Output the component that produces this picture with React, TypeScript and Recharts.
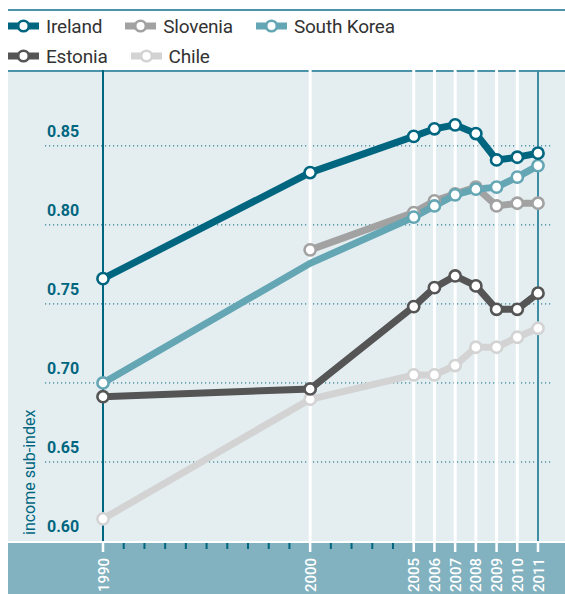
import {
  CartesianGrid,
  Line,
  LineChart,
  ReferenceLine,
  XAxis,
  YAxis
} from "recharts"

// Income sub-index, 1990–2011. Values.
const YEARS = [1990, 2000, 2005, 2006, 2007, 2008, 2009, 2010, 2011]
const IRELAND = [0.766, 0.8331, 0.856, 0.8608, 0.8633, 0.8578, 0.8411, 0.8428, 0.8454]
const SLOVENIA = [null, 0.7842, 0.8078, 0.8152, 0.8196, 0.8239, 0.812, 0.8137, 0.8137]
const SOUTH_KOREA = [0.7, 0.7757, 0.8049, 0.812, 0.819, 0.8226, 0.8239, 0.8302, 0.8375]
const ESTONIA = [0.6913, 0.6962, 0.7483, 0.7603, 0.7677, 0.7614, 0.7466, 0.7466, 0.7568]
const CHILE = [0.614, 0.6897, 0.7051, 0.7051, 0.711, 0.7226, 0.7226, 0.7289, 0.7346]

// South Korea's line bends at 2000 but has no marker there
const SOUTH_KOREA_NO_MARKER = [2000]

const LABELLED_YEARS = [1990, 2000, 2005, 2006, 2007, 2008, 2009, 2010, 2011]
const ALL_YEARS = Array.from({ length: 22 }, (_, i) => 1990 + i)
const Y_TICKS = [0.6, 0.65, 0.7, 0.75, 0.8, 0.85]
const WHITE_GUIDES = [2000, 2005, 2006, 2007, 2008, 2009, 2010]

const TEAL = "#006680"
const TEAL_LIGHT = "#4a93a8"
const PLOT_BG = "#e4eef1"
const BAND_BG = "#82b2bf"

const SERIES = [
  { key: "chile", name: "Chile", color: "#d3d3d3", values: CHILE },
  { key: "slovenia", name: "Slovenia", color: "#a2a2a2", values: SLOVENIA },
  { key: "korea", name: "South Korea", color: "#65a6b4", values: SOUTH_KOREA },
  { key: "estonia", name: "Estonia", color: "#555555", values: ESTONIA },
  { key: "ireland", name: "Ireland", color: TEAL, values: IRELAND }
]
const LEGEND_ROWS = [
  ["ireland", "slovenia", "korea"],
  ["estonia", "chile"]
]

const data = YEARS.map((year, i) => {
  const row: Record<string, number | null> = { year }
  SERIES.forEach((s) => (row[s.key] = s.values[i]))
  return row
})

const W = 565
const H = 594
const TOP = 70
const X_AXIS_H = 53
const PLOT_BOTTOM = H - X_AXIS_H
const FONT = "Roboto, 'DejaVu Sans', sans-serif"

function LegendIcon({ color }: { color: string }) {
  return (
    <svg width={31} height={16} style={{ display: "block" }}>
      <line x1={0} x2={31} y1={8} y2={8} stroke={color} strokeWidth={7} />
      <circle cx={15.5} cy={8} r={5.3} fill="#fff" stroke={color} strokeWidth={2.6} />
    </svg>
  )
}

function Legend() {
  const byKey = Object.fromEntries(SERIES.map((s) => [s.key, s]))
  return (
    <div style={{ position: "absolute", left: 8, top: 11, fontFamily: FONT }}>
      {LEGEND_ROWS.map((row, r) => (
        <div key={r} style={{ display: "flex", gap: 23, height: 30, alignItems: "center" }}>
          {row.map((k) => (
            <div key={k} style={{ display: "flex", alignItems: "center", gap: 7 }}>
              <LegendIcon color={byKey[k].color} />
              <span style={{ fontSize: 19, color: "#333", letterSpacing: -0.2 }}>
                {byKey[k].name}
              </span>
            </div>
          ))}
        </div>
      ))}
    </div>
  )
}

function YTick(props: any) {
  const { y, payload } = props
  return (
    <text
      x={47}
      y={y - 9}
      fill={TEAL}
      fontSize={16}
      fontWeight={700}
      fontFamily={FONT}
    >
      {payload.value.toFixed(2)}
    </text>
  )
}

function XTick(props: any) {
  const { x, payload } = props
  const year = payload.value as number
  if (!LABELLED_YEARS.includes(year)) {
    return (
      <line x1={x} x2={x} y1={PLOT_BOTTOM + 2} y2={PLOT_BOTTOM + 8} stroke={TEAL} strokeWidth={2} />
    )
  }
  return (
    <g>
      <line x1={x} x2={x} y1={PLOT_BOTTOM} y2={PLOT_BOTTOM + 11} stroke="#fff" strokeWidth={2.5} />
      <text
        transform={`translate(${x + 5.5}, ${PLOT_BOTTOM + 17}) rotate(-90)`}
        textAnchor="end"
        fill="#fff"
        fontSize={15}
        fontWeight={500}
        fontFamily={FONT}
      >
        {year}
      </text>
    </g>
  )
}

function YLabel(props: any) {
  const vb = props.viewBox
  const y = vb.y + vb.height - 6
  return (
    <text
      transform={`translate(35, ${y}) rotate(-90)`}
      fill={TEAL}
      fontSize={16}
      fontFamily={FONT}
    >
      income sub-index
    </text>
  )
}

function makeDot(color: string, skip: number[]) {
  return (p: any) => {
    if (p.cy == null || skip.includes(p.payload.year)) return <g key={p.key} />
    return (
      <circle
        key={p.key}
        cx={p.cx}
        cy={p.cy}
        r={5.6}
        fill="#fff"
        stroke={color}
        strokeWidth={2.6}
      />
    )
  }
}

export default function App() {
  return (
    <div style={{ position: "absolute", left: 0, top: 0, width: W, height: H, background: "#fff" }}>
      <div style={{ position: "absolute", left: 8, right: 0, top: 9, height: 2, background: TEAL_LIGHT }} />
      <Legend />
      <div style={{ position: "absolute", left: 8, right: 0, top: TOP, height: PLOT_BOTTOM - TOP, background: PLOT_BG, borderTop: `2px solid ${TEAL_LIGHT}`, boxSizing: "border-box" }} />
      <div style={{ position: "absolute", left: 8, right: 0, top: PLOT_BOTTOM, bottom: 0, background: BAND_BG, borderTop: "2px solid #fff", boxSizing: "border-box" }} />
      <div style={{ position: "absolute", left: 0, top: 0 }}>
        <LineChart
          width={W}
          height={H}
          data={data}
          margin={{ top: TOP, right: 12, bottom: 0, left: 0 }}
        >
          <CartesianGrid
            vertical={false}
            horizontalValues={[0.65, 0.7, 0.75, 0.8, 0.85]}
            stroke={TEAL}
            strokeDasharray="1.2 2.8"
          />
          <XAxis
            type="number"
            dataKey="year"
            domain={[1987.2, 2011.724]}
            allowDataOverflow
            ticks={ALL_YEARS}
            interval={0}
            height={X_AXIS_H}
            axisLine={false}
            tickLine={false}
            tick={<XTick />}
          />
          <YAxis
            type="number"
            domain={[0.6, 0.898]}
            allowDataOverflow
            ticks={Y_TICKS}
            width={45}
            axisLine={false}
            tickLine={false}
            tick={<YTick />}
            label={<YLabel />}
          />
          {WHITE_GUIDES.map((yr) => (
            <ReferenceLine key={yr} x={yr} stroke="#fff" strokeWidth={3} />
          ))}
          <ReferenceLine x={1990} stroke={TEAL} strokeWidth={2} />
          <ReferenceLine x={2011} stroke="#3d8ea4" strokeWidth={2} />
          {SERIES.map((s) => (
            <Line
              key={s.key}
              dataKey={s.key}
              name={s.name}
              type="linear"
              stroke={s.color}
              strokeWidth={7}
              dot={makeDot(s.color, s.key === "korea" ? SOUTH_KOREA_NO_MARKER : [])}
              activeDot={false}
              isAnimationActive={false}
            />
          ))}
        </LineChart>
      </div>
    </div>
  )
}
